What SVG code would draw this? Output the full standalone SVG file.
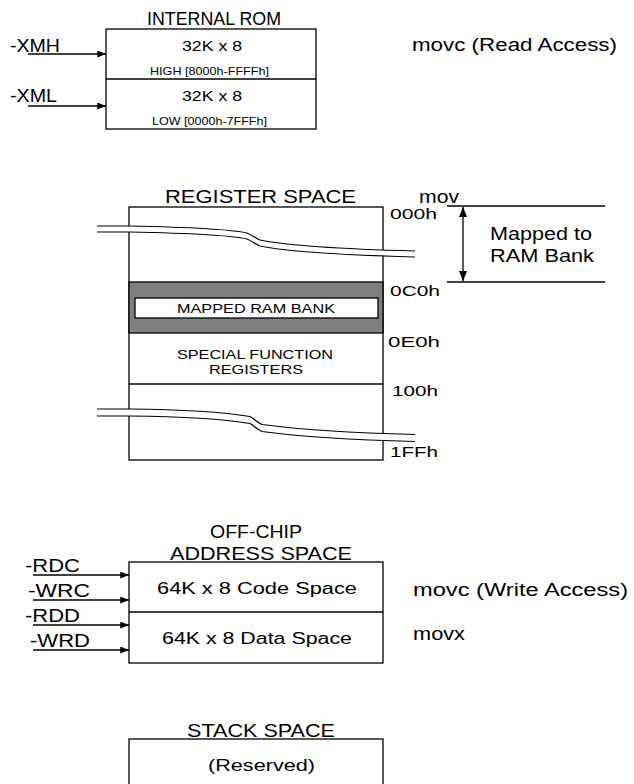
<svg xmlns="http://www.w3.org/2000/svg" width="634" height="784" viewBox="0 0 634 784">
<defs>
<style>
text{font-family:"Liberation Sans",Arial,sans-serif;fill:#000}
.box{fill:#fff;stroke:#000;stroke-width:1.3}
.ln{stroke:#000;stroke-width:1.3;fill:none}
.arr{stroke:#000;stroke-width:1.6;fill:none;marker-end:url(#ah)}
.t{font-size:17.5px}
.m{font-size:15px}
.s{font-size:10.5px}
.wave{fill:none;stroke:#fff;stroke-width:6}
.wl{fill:none;stroke:#000;stroke-width:1.2}
</style>
<marker id="ah" viewBox="0 0 10 8" refX="10" refY="4" markerWidth="9" markerHeight="7" markerUnits="userSpaceOnUse" orient="auto">
<path d="M0,0 L10,4 L0,8 z" fill="#000"/>
</marker>
<marker id="ahs" viewBox="0 0 10 8" refX="10" refY="4" markerWidth="10" markerHeight="8" markerUnits="userSpaceOnUse" orient="auto-start-reverse">
<path d="M0,0 L10,4 L0,8 z" fill="#000"/>
</marker>
<path id="w1" d="M97,229 L129,229 C180,230 230,232 247,236 C252,238 255,241 260,243 C290,249 340,252 415,254"/>
<path id="w2" d="M97,412.5 L129,412.5 C180,413 220,415 250,420 C254,422 257,426 262,428 C300,433 340,436 415,438"/>
</defs>

<g id="internal-rom">
<text class="t" x="147" y="25" textLength="134" lengthAdjust="spacingAndGlyphs">INTERNAL ROM</text>
<rect class="box" x="106" y="29" width="210" height="100"/>
<line class="ln" x1="106" y1="79" x2="316" y2="79"/>
<text class="m" x="182" y="51" textLength="60" lengthAdjust="spacingAndGlyphs">32K x 8</text>
<text class="s" x="150" y="75" textLength="119" lengthAdjust="spacingAndGlyphs">HIGH [8000h-FFFFh]</text>
<text class="m" x="182" y="101" textLength="60" lengthAdjust="spacingAndGlyphs">32K x 8</text>
<text class="s" x="152" y="125" textLength="115" lengthAdjust="spacingAndGlyphs">LOW [0000h-7FFFh]</text>
<text class="t" x="10" y="52" textLength="50" lengthAdjust="spacingAndGlyphs">-XMH</text>
<text class="t" x="10" y="102" textLength="47" lengthAdjust="spacingAndGlyphs">-XML</text>
<text class="t" x="412" y="51" textLength="205" lengthAdjust="spacingAndGlyphs">movc (Read Access)</text>
</g>

<g id="register-space">
<text class="t" x="165" y="203" textLength="191" lengthAdjust="spacingAndGlyphs">REGISTER SPACE</text>
<rect class="box" x="129" y="207" width="254" height="253"/>
<rect x="129" y="282" width="254" height="51" fill="#7f7f7f" stroke="#000" stroke-width="1.3"/>
<rect class="box" x="135" y="298" width="243" height="20"/>
<text x="177" y="313" font-size="13" textLength="158" lengthAdjust="spacingAndGlyphs">MAPPED RAM BANK</text>
<line class="ln" x1="129" y1="384" x2="383" y2="384"/>
<text x="177" y="359" font-size="13.5" textLength="156" lengthAdjust="spacingAndGlyphs">SPECIAL FUNCTION</text>
<text x="209" y="374" font-size="13.5" textLength="94" lengthAdjust="spacingAndGlyphs">REGISTERS</text>
<use href="#w1" class="wave"/>
<use href="#w1" class="wl" transform="translate(0,-3)"/>
<use href="#w1" class="wl" transform="translate(0,3)"/>
<use href="#w2" class="wave" style="stroke-width:7"/>
<use href="#w2" class="wl" transform="translate(0,-3.5)"/>
<use href="#w2" class="wl" transform="translate(0,3.5)"/>
<text class="t" x="419" y="203" textLength="40" lengthAdjust="spacingAndGlyphs">mov</text>
<text class="m" x="390" y="219" textLength="47" lengthAdjust="spacingAndGlyphs">000h</text>
<text class="m" x="390" y="296" textLength="50" lengthAdjust="spacingAndGlyphs">0C0h</text>
<text class="m" x="388" y="347" textLength="52" lengthAdjust="spacingAndGlyphs">0E0h</text>
<text class="m" x="392" y="396" textLength="46" lengthAdjust="spacingAndGlyphs">100h</text>
<text class="m" x="390" y="457" textLength="48" lengthAdjust="spacingAndGlyphs">1FFh</text>
<line class="ln" x1="447" y1="206" x2="605" y2="206"/>
<line class="ln" x1="447" y1="282" x2="605" y2="282"/>
<line x1="463" y1="207" x2="463" y2="281" stroke="#000" stroke-width="1.3" marker-start="url(#ahs)" marker-end="url(#ahs)"/>
<text class="t" x="490" y="240" textLength="102" lengthAdjust="spacingAndGlyphs">Mapped to</text>
<text class="t" x="490" y="262" textLength="104" lengthAdjust="spacingAndGlyphs">RAM Bank</text>
</g>

<g id="off-chip">
<text class="t" x="210" y="538" textLength="92" lengthAdjust="spacingAndGlyphs">OFF-CHIP</text>
<text class="t" x="170" y="560" textLength="182" lengthAdjust="spacingAndGlyphs">ADDRESS SPACE</text>
<rect class="box" x="129" y="562" width="254" height="101"/>
<line class="ln" x1="129" y1="612" x2="383" y2="612"/>
<text x="157" y="594" font-size="16" textLength="200" lengthAdjust="spacingAndGlyphs">64K x 8 Code Space</text>
<text x="162" y="644" font-size="16" textLength="190" lengthAdjust="spacingAndGlyphs">64K x 8 Data Space</text>
<text class="t" x="25" y="572" textLength="55" lengthAdjust="spacingAndGlyphs">-RDC</text>
<text class="t" x="28" y="597" textLength="62" lengthAdjust="spacingAndGlyphs">-WRC</text>
<text class="t" x="25" y="622" textLength="55" lengthAdjust="spacingAndGlyphs">-RDD</text>
<text class="t" x="30" y="647" textLength="60" lengthAdjust="spacingAndGlyphs">-WRD</text>
<text class="t" x="413" y="596" textLength="215" lengthAdjust="spacingAndGlyphs">movc (Write Access)</text>
<text class="t" x="413" y="640" textLength="52" lengthAdjust="spacingAndGlyphs">movx</text>
</g>

<g id="stack-space">
<text class="t" x="187" y="737" textLength="148" lengthAdjust="spacingAndGlyphs">STACK SPACE</text>
<rect class="box" x="129" y="739" width="254" height="80"/>
<text x="208" y="771" font-size="17" textLength="107" lengthAdjust="spacingAndGlyphs">(Reserved)</text>
</g>

<g id="connectors">
<line class="arr" x1="28" y1="54" x2="106" y2="54"/>
<line class="arr" x1="28" y1="106" x2="106" y2="106"/>
<line class="arr" x1="33" y1="575" x2="129" y2="575"/>
<line class="arr" x1="33" y1="600" x2="129" y2="600"/>
<line class="arr" x1="33" y1="625" x2="129" y2="625"/>
<line class="arr" x1="33" y1="650" x2="129" y2="650"/>
</g>
</svg>
